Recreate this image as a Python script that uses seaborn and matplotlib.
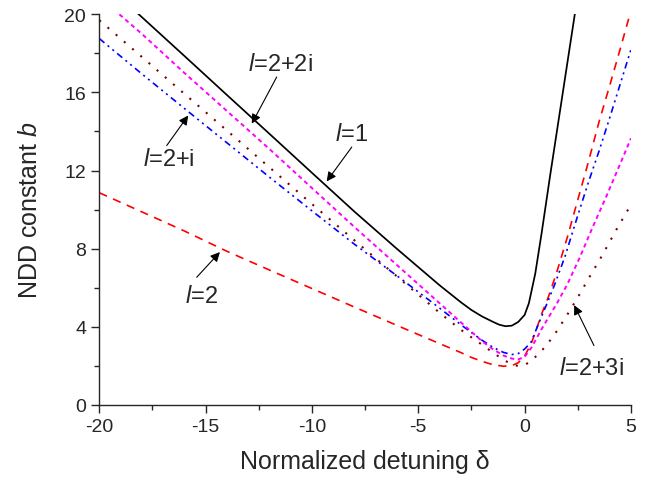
import matplotlib
matplotlib.use("Agg")
import matplotlib.pyplot as plt
import numpy as np
import pandas as pd
import seaborn as sns

# curves: normalized detuning delta -> NDD constant b
x_l1 = [-20, -18, -16, -14, -12, -10, -8, -6, -5, -4, -3, -2.5, -2, -1.5, -1.2, -0.9,
        -0.6, -0.3, 0, 0.2, 0.5, 0.8, 1.2, 1.6, 2.0, 2.4, 2.6]
b_l1 = [21.85, 19.86, 17.87, 15.87, 13.88, 11.88, 9.89, 7.98, 7.05, 6.12, 5.25, 4.85, 4.52,
        4.25, 4.1, 4.02, 4.05, 4.24, 4.6, 5.2, 6.72, 8.8, 11.75, 14.6, 17.45, 20.3, 21.7]

x_l2 = [-20, -18, -16, -14, -12, -10, -8, -6, -4, -3, -2.5, -2, -1.5, -1.0, -0.6, -0.3,
        0, 0.3, 0.56, 0.8, 1.11, 1.5, 2.0, 2.5, 3.0, 3.5, 4.0, 4.5, 5.0]
b_l2 = [10.86, 9.88, 8.9, 7.86, 6.9, 5.95, 5.0, 4.06, 3.13, 2.67, 2.42, 2.22, 2.05, 1.97,
        2.0, 2.15, 2.5, 3.1, 3.88, 4.65, 5.5, 6.75, 8.55, 10.5, 12.45, 14.5, 16.35, 18.25, 20.2]

x_l2i = [-20, -18, -16, -14, -12, -10, -8, -6, -4, -3, -2.42, -2, -1.5, -1.0, -0.6, -0.3,
         0, 0.3, 0.6, 1.0, 1.4, 1.9, 2.5, 3.0, 3.5, 4.0, 4.5, 5.0]
b_l2i = [18.76, 16.95, 15.18, 13.42, 11.66, 9.93, 8.22, 6.6, 4.95, 4.1, 3.63, 3.3, 2.95,
         2.68, 2.57, 2.62, 2.85, 3.2, 4.0, 5.05, 6.12, 7.6, 9.7, 11.4, 13.0, 14.7, 16.45, 18.2]

x_l22i = [-20, -18, -16, -14, -12, -10, -8, -6, -4, -3, -2, -1.5, -1.0, -0.6, -0.3, 0,
          0.33, 0.8, 1.5, 2.0, 2.6, 3.2, 3.86, 4.4, 5.0]
b_l22i = [20.9, 19.0, 17.0, 15.05, 13.1, 11.1, 9.1, 7.15, 5.2, 4.22, 3.25, 2.85, 2.52,
          2.36, 2.32, 2.45, 2.94, 3.88, 5.16, 6.15, 7.56, 9.1, 10.72, 12.1, 13.65]

x_l23i = [-20, -18, -16, -14, -12, -10, -8, -6, -4, -3, -2.5, -2, -1.5, -1.0, -0.6, -0.3,
          0, 0.2, 0.56, 1.0, 1.5, 2.0, 2.5, 3.0, 3.62, 4.33, 5.0]
b_l23i = [19.7, 17.82, 15.93, 14.05, 12.16, 10.28, 8.42, 6.57, 4.71, 3.84, 3.45, 3.07,
          2.68, 2.3, 2.07, 1.98, 2.03, 2.17, 2.5, 3.0, 3.75, 4.6, 5.5, 6.45, 7.6, 9.0, 10.25]

curves = [
    # x, y, colour, dash pattern (None = solid), linewidth
    (x_l1, b_l1, "black", None, 1.25),
    (x_l2, b_l2, "#ff0000", (5, 4), 1.2),
    (x_l2i, b_l2i, "#0000ff", (4, 2.5, 1.2, 2.5, 1.2, 2.5), 1.2),
    (x_l22i, b_l22i, "#ff00ff", (2.2, 1.8), 1.4),
    (x_l23i, b_l23i, "#800000", (1, 4.2), 1.5),
]

# label text, text anchor (centre x, baseline y), arrow tail, arrow tip
annotations = [
    ("$\\it{l}$=1", (-8.13, 13.54), (-8.13, 13.2), (-9.31, 11.44)),
    ("$\\it{l}$=2+2i", (-11.5, 17.13), (-11.66, 16.79), (-12.83, 14.4)),
    ("$\\it{l}$=2+i", (-16.72, 12.26), (-16.83, 13.28), (-15.82, 14.82)),
    ("$\\it{l}$=2", (-15.19, 5.28), (-15.42, 6.53), (-14.33, 7.82)),
    ("$\\it{l}$=2+3i", (3.15, 1.57), (3.26, 3.03), (2.33, 5.1)),
]

sns.set_style("ticks")
plt.rcParams["font.family"] = ["Liberation Sans", "DejaVu Sans"]
plt.rcParams["mathtext.fontset"] = "custom"
plt.rcParams["mathtext.rm"] = "Liberation Sans"
plt.rcParams["mathtext.it"] = "Liberation Sans:italic"
plt.rcParams["axes.unicode_minus"] = False

fig = plt.figure(figsize=(6.6, 4.81), dpi=100)
ax = fig.add_axes([0.1505, 0.1566, 0.8055, 0.8114])

for xs, ys, col, dash, lw in curves:
    sns.lineplot(x=xs, y=ys, ax=ax, color=col, linewidth=lw, sort=False)
    if dash is not None:
        ax.lines[-1].set_dashes(dash)

for txt, pos, tail, tip in annotations:
    ax.text(pos[0], pos[1], txt, ha="center", va="baseline", fontsize=17)
    ax.annotate("", xy=tip, xytext=tail,
                arrowprops=dict(arrowstyle="-|>", color="black", lw=0.8,
                                mutation_scale=14, shrinkA=0, shrinkB=0))

ax.set_xlim(-20, 5)
ax.set_ylim(0, 20)
ax.set_xticks(np.arange(-20, 6, 5))
ax.set_xticks(np.arange(-17.5, 5, 5), minor=True)
ax.set_yticks(np.arange(0, 21, 4))
ax.set_yticks(np.arange(2, 20, 4), minor=True)
ax.tick_params(which="major", direction="out", length=5.5, width=1.0, labelsize=14, pad=4)
ax.tick_params(which="minor", direction="out", length=3.5, width=1.0)
for s in ["left", "bottom"]:
    ax.spines[s].set_linewidth(1.0)
sns.despine(ax=ax)

ax.set_xlabel("Normalized detuning δ", fontsize=18, labelpad=10)
ax.set_ylabel("NDD constant $\\it{b}$", fontsize=18, labelpad=16)

fig.savefig("out.png", dpi=100)
